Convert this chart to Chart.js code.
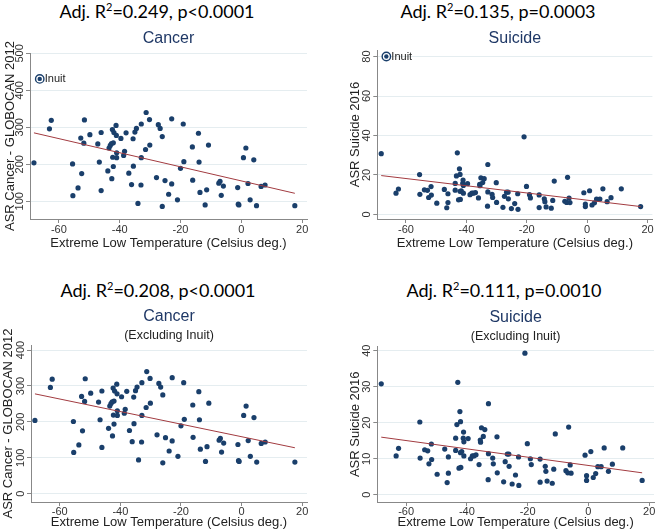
<!DOCTYPE html>
<html lang="en">
<head>
<meta charset="UTF-8">
<title>Extreme low temperature vs cancer and suicide</title>
<script src="https://cdn.jsdelivr.net/npm/chart.js"></script>
<style>
  body { margin: 0; background: #fff; width: 658px; height: 529px; position: relative; overflow: hidden; }
  .big { position: absolute; width: 300px; text-align: center; font-family: Lato, 'Open Sans', sans-serif; font-size: 18px; line-height: 22px; color: #000; white-space: nowrap; }
  .big sup { font-size: 11px; line-height: 0; vertical-align: 7px; }
  .box { position: absolute; }
</style>
</head>
<body>
<div class="big" style="left:7px; top:0px">Adj. R<sup>2</sup>=0.249, p&lt;0.0001</div>
<div class="big" style="left:348px; top:0px">Adj. R<sup>2</sup>=0.135, p=0.0003</div>
<div class="big" style="left:8px; top:279px">Adj. R<sup>2</sup>=0.208, p&lt;0.0001</div>
<div class="big" style="left:354px; top:279px">Adj. R<sup>2</sup>=0.111, p=0.0010</div>

<div class="box" style="left:0; top:24px; width:322px; height:226px"><canvas id="c1"></canvas></div>
<div class="box" style="left:342px; top:24px; width:316px; height:226px"><canvas id="c2"></canvas></div>
<div class="box" style="left:0; top:298px; width:322px; height:231px"><canvas id="c3"></canvas></div>
<div class="box" style="left:342px; top:298px; width:316px; height:231px"><canvas id="c4"></canvas></div>

<script>
// cancer ASR (GLOBOCAN 2012) vs extreme low temperature, Inuit excluded
const cancerTemp = [-68.2, -63.1, -62.5, -55.5, -55.4, -53.7, -52.8, -52.5, -51.8, -51.6,
  -49.8, -47.2, -46.7, -46.1, -46.1, -43.9, -43.5, -43.1, -42.7, -42.6,
  -42.4, -42.3, -42.1, -42.1, -41.9, -41.2, -41.1, -41.0, -41.0, -39.6,
  -38.7, -38.4, -37.9, -37.0, -36.1, -35.6, -35.5, -35.0, -34.5, -34.0,
  -33.0, -32.9, -32.9, -31.5, -31.3, -30.2, -30.1, -27.9, -27.3, -26.7,
  -26.0, -26.0, -25.1, -23.9, -22.9, -22.9, -21.0, -20.0, -19.1, -18.9,
  -16.1, -16.0, -14.1, -13.9, -13.6, -11.9, -11.4, -10.8, -7.4, -7.0,
  -6.6, -5.9, -1.2, -1.0, -0.8, 0.7, 1.5, 2.2, 2.9, 4.1,
  5.0, 6.5, 7.8, 17.6];
const cancerAsr = [204, 296, 319, 201, 115, 136, 271, 175, 257, 320,
  280, 255, 206, 286, 129, 182, 244, 251, 256, 161,
  294, 219, 194, 258, 286, 305, 278, 231, 218, 270,
  224, 235, 285, 176, 145, 269, 195, 287, 297, 94,
  144, 309, 218, 240, 340, 321, 252, 164, 307, 297,
  275, 86, 156, 119, 323, 147, 104, 189, 309, 207,
  247, 157, 284, 206, 124, 90, 131, 252, 149, 154,
  116, 141, 137, 92, 90, 218, 244, 148, 104, 212,
  88, 140, 144, 88];

// suicide ASR 2016 vs extreme low temperature, Inuit excluded
const suicideTemp = [-68.2, -63.3, -62.5, -55.5, -55.4, -53.9, -52.9, -52.5, -51.7, -51.6,
  -49.8, -47.3, -46.5, -46.1, -46.1, -43.7, -43.7, -43.3, -43.0, -42.6,
  -42.3, -42.1, -42.1, -42.0, -41.7, -41.2, -41.1, -41.0, -41.0, -39.6,
  -38.8, -38.2, -37.7, -37.0, -36.0, -35.6, -35.5, -35.2, -34.6, -34.1,
  -32.9, -32.9, -33.0, -31.5, -31.3, -30.1, -30.0, -27.9, -27.4, -26.7,
  -26.2, -26.1, -25.1, -24.0, -23.0, -22.9, -20.9, -20.1, -19.1, -18.8,
  -15.9, -15.9, -14.2, -14.0, -13.6, -11.9, -11.4, -10.9, -7.4, -6.8,
  -6.5, -6.0, -5.7, -1.1, -0.6, -0.6, 0.8, 1.6, 2.4, 3.1,
  4.2, 5.2, 6.6, 7.9, 11.3, 17.7];
const suicideAsr = [30.8, 10.8, 12.9, 20.2, 10.2, 12.5, 12.2, 8.6, 14.1, 9.8,
  5.7, 12.7, 3.4, 10.5, 6.0, 15.7, 12.3, 19.5, 31.2, 7.4,
  23.1, 20.3, 11.7, 7.6, 12.0, 15.7, 17.4, 14.7, 10.8, 15.6,
  10.0, 10.8, 10.8, 11.1, 8.4, 15.2, 14.6, 18.6, 16.2, 18.1,
  25.3, 11.4, 4.2, 10.2, 8.6, 16.1, 6.1, 3.6, 9.2, 11.3,
  11.3, 7.9, 3.0, 5.5, 10.5, 2.6, 39.3, 14.2, 10.0, 8.4,
  9.9, 3.5, 7.9, 6.5, 3.8, 3.2, 7.1, 16.9, 6.7, 6.1,
  18.8, 8.3, 6.0, 11.0, 5.3, 4.0, 12.0, 4.8, 5.9, 7.8,
  7.8, 13.0, 6.5, 8.5, 13.0, 4.0];

// Inuit outlier [temperature, value]
const inuitCancer = [-66.3, 431];
const inuitSuicide = [-66.5, 80];

// fitted lines, end points
const fitTempCancer = [-68.2, 17.6];
const fitAllCancer = [285, 121.5];
const fitExclCancer = [278, 128];
const fitTempSuicide = [-68.2, 17.7];
const fitAllSuicide = [19.7, 4.0];
const fitExclSuicide = [16.0, 6.1];

// ticks
const tempTicks = [-60, -40, -20, 0, 20];
const cancerTicksAll = [100, 200, 300, 400, 500];
const cancerTicksExcl = [0, 100, 200, 300, 400];
const suicideTicksAll = [0, 20, 40, 60, 80];
const suicideTicksExcl = [0, 10, 20, 30, 40];

const navy = '#1a3f6b';
const fitRed = '#a23b40';
const FONT = "'Liberation Sans', Arial, sans-serif";
Chart.defaults.font.family = FONT;

const pts = (xs, ys) => xs.map((x, i) => ({ x: x, y: ys[i] }));

// y tick labels drawn vertically, like the original
const verticalYTicks = {
  id: 'verticalYTicks',
  afterDraw(chart) {
    const s = chart.scales.y, ctx = chart.ctx;
    ctx.save();
    ctx.font = '11px ' + FONT;
    ctx.fillStyle = '#333';
    ctx.textAlign = 'center';
    ctx.textBaseline = 'middle';
    s.ticks.forEach(t => {
      ctx.save();
      ctx.translate(s.right - 4 - 6, s.getPixelForValue(t.value));
      ctx.rotate(-Math.PI / 2);
      ctx.fillText(String(t.value), 0, 0);
      ctx.restore();
    });
    ctx.restore();
  }
};

const inuitLabel = {
  id: 'inuitLabel',
  afterDatasetsDraw(chart) {
    chart.data.datasets.forEach((ds, i) => {
      if (ds.label !== 'Inuit') return;
      const p = chart.getDatasetMeta(i).data[0];
      const ctx = chart.ctx;
      ctx.save();
      ctx.font = '11px ' + FONT;
      ctx.fillStyle = '#222';
      ctx.textBaseline = 'middle';
      ctx.fillText('Inuit', p.x + 5, p.y);
      ctx.restore();
    });
  }
};

function makeChart(id, o) {
  const datasets = [
    { data: pts(o.fitX, o.fitY), showLine: true, borderColor: fitRed, borderWidth: 1,
      pointRadius: 0, order: 1 },
    { data: pts(o.xs, o.ys), backgroundColor: navy, borderWidth: 0, pointRadius: 2.6, order: 3 }
  ];
  if (o.inuit) {
    datasets.push({ label: 'Inuit', data: [{ x: o.inuit[0], y: o.inuit[1] }], backgroundColor: '#fff',
      borderColor: navy, borderWidth: 1.4, pointRadius: 4.2, order: 2 });
    datasets.push({ label: 'InuitDot', data: [{ x: o.inuit[0], y: o.inuit[1] }], backgroundColor: navy,
      borderWidth: 0, pointRadius: 2.2, order: 0 });
  }
  new Chart(document.getElementById(id), {
    type: 'scatter',
    data: { datasets: datasets },
    options: {
      responsive: true,
      maintainAspectRatio: false,
      animation: false,
      events: [],
      layout: { padding: { left: 0, right: o.rPad, top: 0, bottom: 0 } },
      plugins: {
        legend: { display: false },
        tooltip: { enabled: false },
        title: { display: true, text: o.title, color: '#1f3866', fullSize: false,
          font: { size: 16, weight: 'normal', lineHeight: 1.2 }, padding: o.titlePad },
        subtitle: { display: !!o.subtitle, text: o.subtitle || '', color: '#222', fullSize: false,
          font: { size: 12.5, lineHeight: 1.2 }, padding: o.subPad || 0 }
      },
      scales: {
        x: {
          type: 'linear', min: -69.5, max: 21.6,
          afterBuildTicks: s => { s.ticks = tempTicks.map(v => ({ value: v })); },
          ticks: { color: '#333', font: { size: 11, lineHeight: 1 }, padding: o.xTickPad, maxRotation: 0 },
          grid: { drawOnChartArea: false, drawTicks: true, tickLength: 4, tickColor: '#888' },
          border: { color: '#888' },
          title: { display: true, text: 'Extreme Low Temperature (Celsius deg.)', color: '#222',
            font: { size: 13, lineHeight: 1 }, padding: { top: o.xTitlePad, bottom: 0 } }
        },
        y: {
          min: o.yMin, max: o.yMax,
          afterBuildTicks: s => { s.ticks = o.yTicks.map(v => ({ value: v })); },
          afterFit: s => { s.width = o.yWidth; },
          ticks: { display: false },
          grid: { color: '#e5edf0', tickColor: '#888', tickLength: 4 },
          border: { color: '#888' },
          title: { display: true, text: o.yTitle, color: '#222',
            font: { size: 13, lineHeight: 1 }, padding: { top: o.yTitlePad, bottom: 0 } }
        }
      }
    },
    plugins: [verticalYTicks, inuitLabel]
  });
}

makeChart('c1', {
  title: 'Cancer', titlePad: { top: 5.4, bottom: 4.4 },
  xs: cancerTemp, ys: cancerAsr, inuit: inuitCancer,
  fitX: fitTempCancer, fitY: fitAllCancer,
  yMin: 52, yMax: 501, yTicks: cancerTicksAll, yWidth: 30, yTitlePad: 3.5,
  yTitle: 'ASR Cancer - GLOBOCAN 2012', xTickPad: 1.5, xTitlePad: 0, rPad: 15
});
makeChart('c2', {
  title: 'Suicide', titlePad: { top: 5.4, bottom: 1.4 },
  xs: suicideTemp, ys: suicideAsr, inuit: inuitSuicide,
  fitX: fitTempSuicide, fitY: fitAllSuicide,
  yMin: -2.3, yMax: 83.3, yTicks: suicideTicksAll, yWidth: 35.3, yTitlePad: 6.5,
  yTitle: 'ASR Suicide 2016', xTickPad: 1.5, xTitlePad: 0, rPad: 2
});
makeChart('c3', {
  title: 'Cancer', titlePad: { top: 9.1, bottom: 1 },
  subtitle: '(Excluding Inuit)', subPad: { top: 1.2, bottom: 1.5 },
  xs: cancerTemp, ys: cancerAsr,
  fitX: fitTempCancer, fitY: fitExclCancer,
  yMin: -23, yMax: 414, yTicks: cancerTicksExcl, yWidth: 31, yTitlePad: 1.5,
  yTitle: 'ASR Cancer - GLOBOCAN 2012', xTickPad: 0, xTitlePad: -1, rPad: 15
});
makeChart('c4', {
  title: 'Suicide', titlePad: { top: 10.4, bottom: 0.6 },
  subtitle: '(Excluding Inuit)', subPad: { top: 1, bottom: 2.5 },
  xs: suicideTemp, ys: suicideAsr,
  fitX: fitTempSuicide, fitY: fitExclSuicide,
  yMin: -2, yMax: 41.1, yTicks: suicideTicksExcl, yWidth: 35.3, yTitlePad: 6.5,
  yTitle: 'ASR Suicide 2016', xTickPad: 0, xTitlePad: -1, rPad: 2
});
</script>
</body>
</html>
